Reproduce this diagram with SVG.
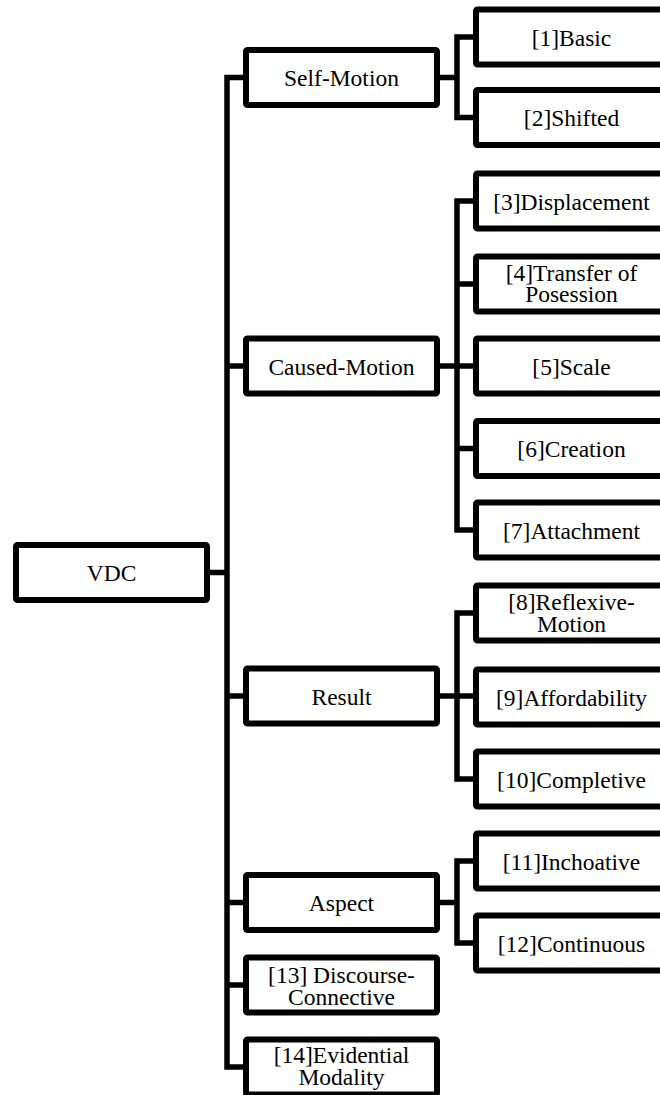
<svg xmlns="http://www.w3.org/2000/svg" width="660" height="1095" viewBox="0 0 660 1095">
  <style>
    .box { fill: #ffffff; stroke: #000000; stroke-width: 6; stroke-linejoin: round; }
    .lbl { font-family: "Liberation Serif", "Times New Roman", serif; font-size: 23.5px; fill: #000000; text-anchor: middle; }
    .wire { fill: none; stroke: #000000; stroke-width: 5.5; stroke-linejoin: miter; stroke-linecap: butt; }
  </style>
  <rect width="660" height="1095" fill="#ffffff"/>

  <!-- connectors: elbow wires from the trunk to every node -->
  <g id="connectors">
    <path class="wire" d="M207,572.5 H227"/>
    <path class="wire" d="M246,77.5 H227 V1067 H246"/>
    <path class="wire" d="M227,366 H246"/>
    <path class="wire" d="M227,696 H246"/>
    <path class="wire" d="M227,902.5 H246"/>
    <path class="wire" d="M227,985 H246"/>

    <!-- Self-Motion branch -->
    <path class="wire" d="M437,77.5 H457"/>
    <path class="wire" d="M476,37 H457 V117.5 H476"/>

    <!-- Caused-Motion branch -->
    <path class="wire" d="M437,366 H476"/>
    <path class="wire" d="M476,201 H457 V530 H476"/>
    <path class="wire" d="M457,284 H476"/>
    <path class="wire" d="M457,448.5 H476"/>

    <!-- Result branch -->
    <path class="wire" d="M437,696 H476"/>
    <path class="wire" d="M476,613 H457 V779 H476"/>

    <!-- Aspect branch -->
    <path class="wire" d="M437,902.5 H457"/>
    <path class="wire" d="M476,861 H457 V943 H476"/>
  </g>

  <!-- root -->
  <g id="vdc">
    <rect class="box" x="16" y="545" width="191" height="55" rx="1.5"/>
    <text class="lbl" x="111.5" y="581">VDC</text>
  </g>

  <!-- categories -->
  <g id="self-motion">
    <rect class="box" x="246" y="50" width="191" height="55" rx="1.5"/>
    <text class="lbl" x="341.5" y="86">Self-Motion</text>
  </g>
  <g id="caused-motion">
    <rect class="box" x="246" y="338.5" width="191" height="55" rx="1.5"/>
    <text class="lbl" x="341.5" y="374.5">Caused-Motion</text>
  </g>
  <g id="result">
    <rect class="box" x="246" y="668.5" width="191" height="55" rx="1.5"/>
    <text class="lbl" x="341.5" y="704.5">Result</text>
  </g>
  <g id="aspect">
    <rect class="box" x="246" y="875" width="191" height="55" rx="1.5"/>
    <text class="lbl" x="341.5" y="911">Aspect</text>
  </g>
  <g id="discourse-connective">
    <rect class="box" x="246" y="957.5" width="191" height="55" rx="1.5"/>
    <text class="lbl" x="341.5" y="983">[13] Discourse-</text>
    <text class="lbl" x="341.5" y="1005">Connective</text>
  </g>
  <g id="evidential-modality">
    <rect class="box" x="246" y="1039.5" width="191" height="55" rx="1.5"/>
    <text class="lbl" x="341.5" y="1062.5">[14]Evidential</text>
    <text class="lbl" x="341.5" y="1084.5">Modality</text>
  </g>

  <!-- leaves -->
  <g id="basic">
    <rect class="box" x="476" y="9.5" width="191" height="55" rx="1.5"/>
    <text class="lbl" x="571.5" y="45.5">[1]Basic</text>
  </g>
  <g id="shifted">
    <rect class="box" x="476" y="90" width="191" height="55" rx="1.5"/>
    <text class="lbl" x="571.5" y="126">[2]Shifted</text>
  </g>
  <g id="displacement">
    <rect class="box" x="476" y="173.5" width="191" height="55" rx="1.5"/>
    <text class="lbl" x="571.5" y="209.5">[3]Displacement</text>
  </g>
  <g id="transfer">
    <rect class="box" x="476" y="256.5" width="191" height="55" rx="1.5"/>
    <text class="lbl" x="571.5" y="280.5">[4]Transfer of</text>
    <text class="lbl" x="571.5" y="302">Posession</text>
  </g>
  <g id="scale">
    <rect class="box" x="476" y="338.5" width="191" height="55" rx="1.5"/>
    <text class="lbl" x="571.5" y="374.5">[5]Scale</text>
  </g>
  <g id="creation">
    <rect class="box" x="476" y="421" width="191" height="55" rx="1.5"/>
    <text class="lbl" x="571.5" y="457">[6]Creation</text>
  </g>
  <g id="attachment">
    <rect class="box" x="476" y="502.5" width="191" height="55" rx="1.5"/>
    <text class="lbl" x="571.5" y="538.5">[7]Attachment</text>
  </g>
  <g id="reflexive-motion">
    <rect class="box" x="476" y="585.5" width="191" height="55" rx="1.5"/>
    <text class="lbl" x="571.5" y="610">[8]Reflexive-</text>
    <text class="lbl" x="571.5" y="632">Motion</text>
  </g>
  <g id="affordability">
    <rect class="box" x="476" y="669.5" width="191" height="55" rx="1.5"/>
    <text class="lbl" x="571.5" y="705.5">[9]Affordability</text>
  </g>
  <g id="completive">
    <rect class="box" x="476" y="751.5" width="191" height="55" rx="1.5"/>
    <text class="lbl" x="571.5" y="787.5">[10]Completive</text>
  </g>
  <g id="inchoative">
    <rect class="box" x="476" y="833.5" width="191" height="55" rx="1.5"/>
    <text class="lbl" x="571.5" y="869.5">[11]Inchoative</text>
  </g>
  <g id="continuous">
    <rect class="box" x="476" y="915.5" width="191" height="55" rx="1.5"/>
    <text class="lbl" x="571.5" y="951.5">[12]Continuous</text>
  </g>
</svg>
